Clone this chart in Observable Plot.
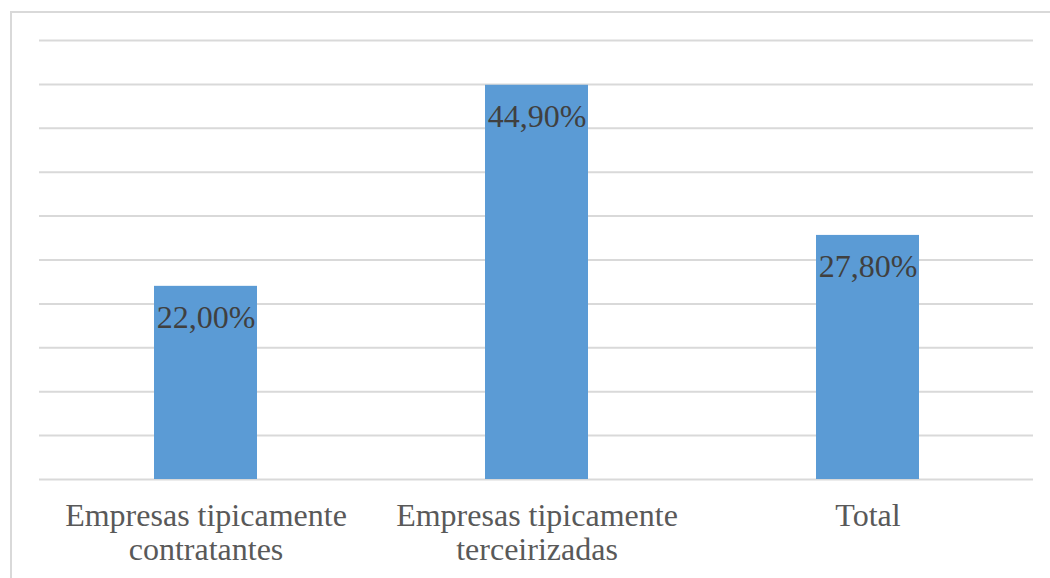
<!DOCTYPE html>
<html>
<head>
<meta charset="utf-8">
<script src="https://cdn.jsdelivr.net/npm/d3@7"></script>
<script src="https://cdn.jsdelivr.net/npm/@observablehq/plot@0.6"></script>
<style>
  html, body { margin: 0; padding: 0; background: #fff; }
  #wrap { position: relative; width: 1050px; height: 578px; overflow: hidden; }
  #frame { position: absolute; left: 10px; top: 11px; width: 1100px; height: 700px;
           border-left: 2px solid #d9d9d9; border-top: 2px solid #d9d9d9; box-sizing: border-box; }
  #chart { position: absolute; left: 0; top: 0; }
</style>
</head>
<body>
<div id="wrap"><div id="frame"></div><div id="chart"></div></div>
<script>
const categories = ["Empresas tipicamente\ncontratantes", "Empresas tipicamente\nterceirizadas", "Total"];
const values = [22.0, 44.9, 27.8];
const valueLabels = ["22,00%", "44,90%", "27,80%"];
const gridTicks = [0, 5, 10, 15, 20, 25, 30, 35, 40, 45, 50];

const data = categories.map((c, i) => ({category: c, value: values[i], label: valueLabels[i]}));

const chart = Plot.plot({
  width: 1050,
  height: 578,
  marginLeft: 39,
  marginRight: 17,
  marginTop: 40,
  marginBottom: 99,
  style: {fontFamily: "'Liberation Serif', serif", background: "transparent"},
  x: {domain: categories, paddingInner: 0.69, paddingOuter: 0.345, label: null},
  y: {domain: [0, 50], axis: null},
  marks: [
    Plot.ruleY(gridTicks, {stroke: "#d9d9d9", strokeWidth: 2}),
    Plot.barY(data, {x: "category", y: "value", fill: "#5b9bd5"}),
    Plot.text(data, {x: "category", y: "value", text: "label", lineAnchor: "top", dy: 19,
                     fontSize: 32, fill: "#404040"}),
    Plot.axisX({tickSize: 0, tickPadding: 22, fontSize: 32, lineHeight: 1.07,
                color: "#595959", fill: "#595959"})
  ]
});
document.getElementById("chart").appendChild(chart);
</script>
</body>
</html>
